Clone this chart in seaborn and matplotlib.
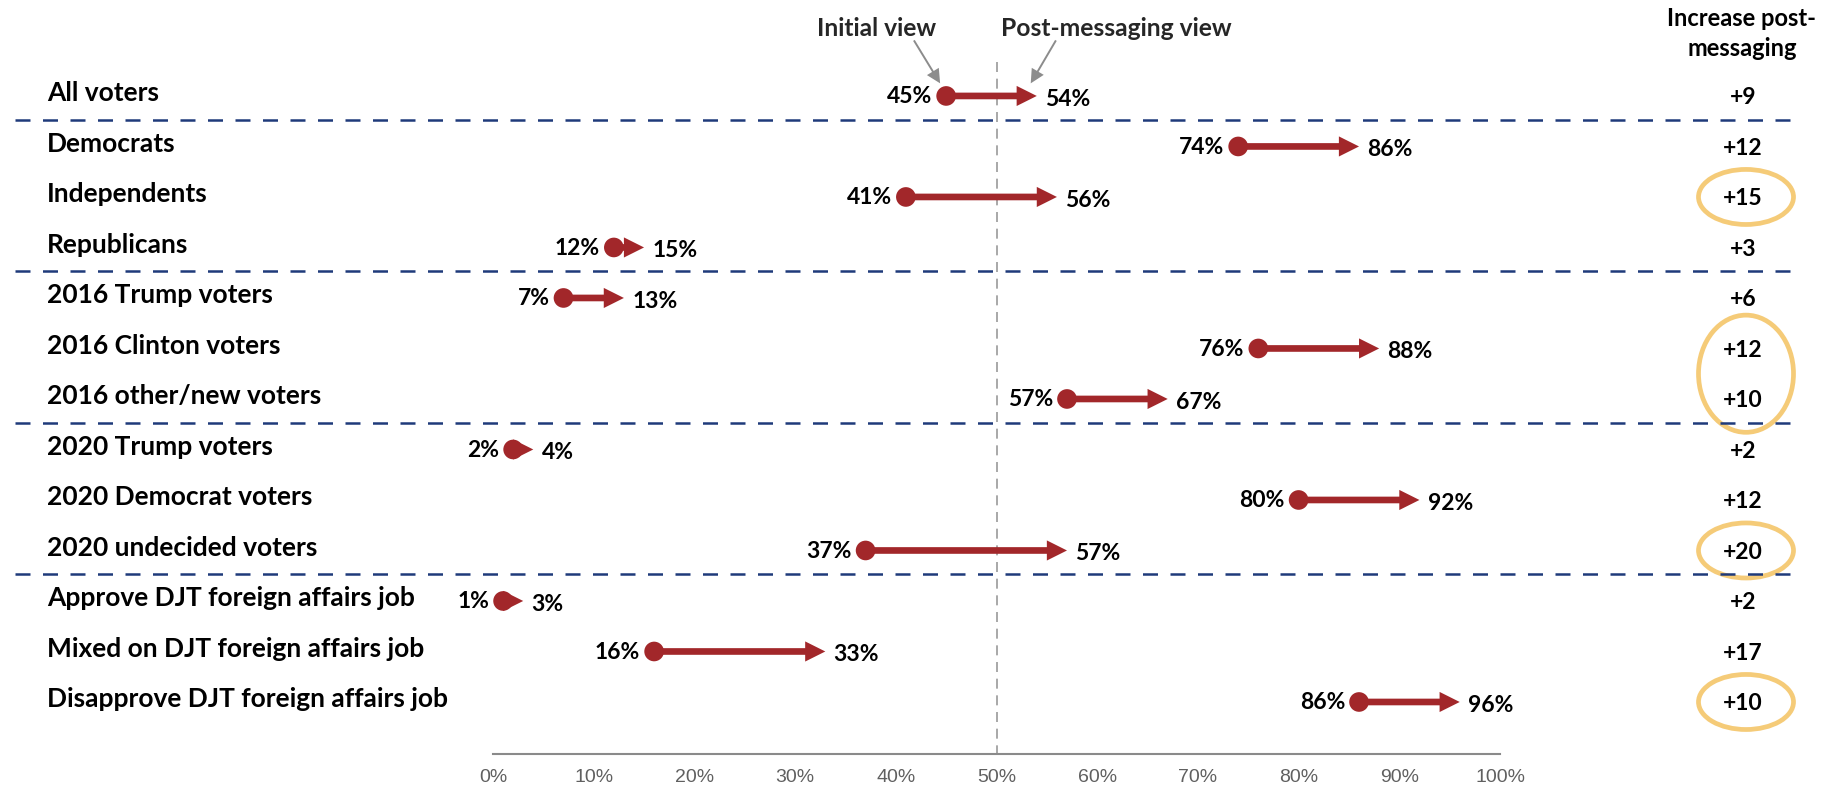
import numpy as np
import pandas as pd
import matplotlib
matplotlib.use("Agg")
import matplotlib.pyplot as plt
import seaborn as sns
from matplotlib.patches import Ellipse, ArrowStyle
from matplotlib.transforms import blended_transform_factory

groups = ["All voters", "Democrats", "Independents", "Republicans",
          "2016 Trump voters", "2016 Clinton voters", "2016 other/new voters",
          "2020 Trump voters", "2020 Democrat voters", "2020 undecided voters",
          "Approve DJT foreign affairs job", "Mixed on DJT foreign affairs job",
          "Disapprove DJT foreign affairs job"]
initial = [45, 74, 41, 12, 7, 76, 57, 2, 80, 37, 1, 16, 86]
post = [54, 86, 56, 15, 13, 88, 67, 4, 92, 57, 3, 33, 96]
increase = ["+9", "+12", "+15", "+3", "+6", "+12", "+10", "+2", "+12", "+20", "+2", "+17", "+10"]
section_ends = [0, 3, 6, 9]
circled = [[2], [5, 6], [9], [12]]
ticks = list(range(0, 101, 10))

df = pd.DataFrame({"group": groups, "initial": initial, "post": post, "increase": increase})
df["row"] = np.arange(len(df))

RED = "#A2272A"
NAVY = "#1F3A7A"
GOLD = "#F5CB78"

sns.set_theme(style="white")
plt.rcParams["font.family"] = ["Lato", "DejaVu Sans"]

W, H = 1835, 792
fig = plt.figure(figsize=(W / 100, H / 100), dpi=100)
# axes: 0% at x=493px, 100% at x=1500px, axis line at y=754px
ax = fig.add_axes([493 / W, (H - 754) / H, 1007 / W, 754 / H])
ax.set_xlim(0, 100)
ax.set_ylim(13.03, -1.90)

# arrows initial -> post
for _, r in df.iterrows():
    ax.annotate("", xy=(r["post"], r["row"]), xytext=(r["initial"], r["row"]),
                arrowprops=dict(arrowstyle=ArrowStyle.Simple(head_length=14.5, head_width=14.5, tail_width=4.8),
                                mutation_scale=1, fc=RED, ec="none", lw=0, shrinkA=0, shrinkB=0),
                annotation_clip=False)

sns.scatterplot(data=df, x="initial", y="row", color=RED, s=200, edgecolor="none",
                ax=ax, legend=False, zorder=3, clip_on=False)

for _, r in df.iterrows():
    ax.annotate(f"{r['initial']}%", xy=(r["initial"], r["row"]), xytext=(-10, -5.2),
                textcoords="offset points", ha="right", va="baseline",
                fontsize=16.5, fontweight="bold", color="black")
    ax.annotate(f"{r['post']}%", xy=(r["post"], r["row"]), xytext=(6, -7.2),
                textcoords="offset points", ha="left", va="baseline",
                fontsize=16.5, fontweight="bold", color="black")

# 50% reference line
ax.plot([50, 50], [-0.67, 13.03], color="#9a9a9a", lw=1.2, dashes=(6, 4), zorder=0, clip_on=False)

blend = blended_transform_factory(fig.transFigure, ax.transData)

# row labels and increase column
for _, r in df.iterrows():
    ax.text(47 / W, r["row"] + 0.1, r["group"], transform=blend, ha="left", va="baseline",
            fontsize=19, fontweight="bold", color="black")
    ax.text(1743 / W, r["row"] + 0.16, r["increase"], transform=blend, ha="center", va="baseline",
            fontsize=16.5, fontweight="bold", color="black")

fig.text(1741 / W, 1 - 18 / H, "Increase post-", ha="center", va="center",
         fontsize=17, fontweight="bold", color="black")
fig.text(1742 / W, 1 - 49 / H, "messaging", ha="center", va="center",
         fontsize=17, fontweight="bold", color="black")

# section separators
for s in section_ends:
    ax.plot([15 / W, 1797 / W], [s + 0.47, s + 0.47], transform=blend, color=NAVY,
            lw=1.8, dashes=(6, 5), clip_on=False)

# highlight ellipses
for rows in circled:
    yc = (rows[0] + rows[-1]) / 2
    h = 1.09 + (rows[-1] - rows[0]) * 1.23
    ax.add_patch(Ellipse((1746 / W, yc), 95 / W, h, transform=blend, fill=False,
                         ec=GOLD, lw=3.4, clip_on=False))

# callouts
arrow_kw = dict(arrowstyle=ArrowStyle.Simple(head_length=10, head_width=10, tail_width=1.4),
                mutation_scale=1, fc="#8c8c8c", ec="none", lw=0, shrinkA=0, shrinkB=0)
ax.annotate("", xy=(44.4, -0.25), xytext=(41.8, -1.1), arrowprops=arrow_kw, annotation_clip=False)
ax.annotate("", xy=(53.4, -0.25), xytext=(55.9, -1.1), arrowprops=arrow_kw, annotation_clip=False)
ax.text(38.1, -1.19, "Initial view", ha="center", va="baseline", fontsize=17.7, fontweight="bold")
ax.text(61.9, -1.19, "Post-messaging view", ha="center", va="baseline", fontsize=17.7, fontweight="bold")

# axis styling
for side in ["top", "right", "left"]:
    ax.spines[side].set_visible(False)
ax.spines["bottom"].set_color("#8a8a8a")
ax.spines["bottom"].set_linewidth(1.5)
ax.set_xticks(ticks)
ax.set_xticklabels([f"{t}%" for t in ticks], fontsize=14, color="#606060",
                   fontfamily="Liberation Sans")
ax.tick_params(axis="x", direction="out", length=5, width=1.2, color="#8a8a8a", pad=6)
ax.set_yticks([])
ax.set_xlabel("")
ax.set_ylabel("")

fig.savefig("out.png", dpi=100)
